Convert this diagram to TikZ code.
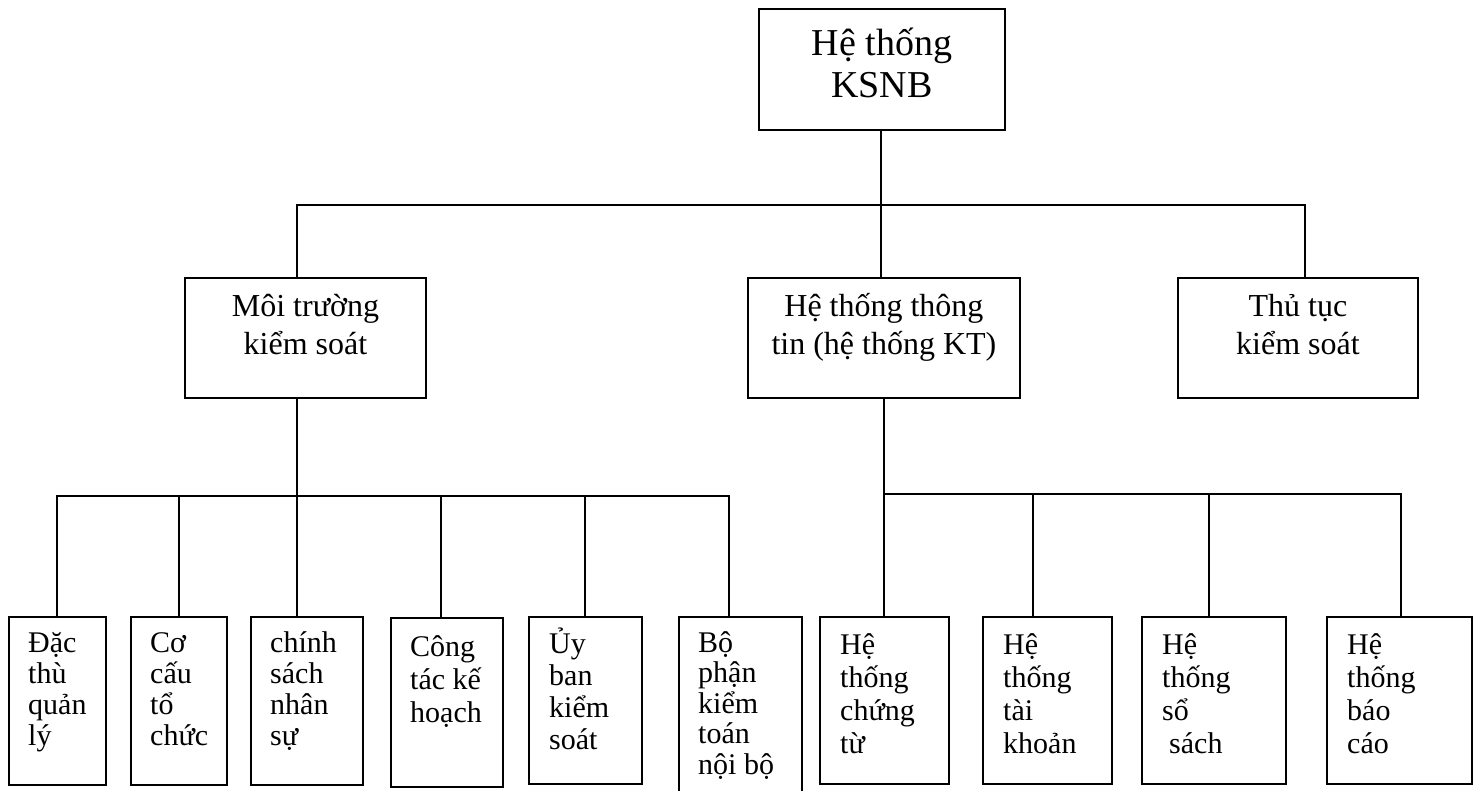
\documentclass[tikz,border=0pt]{standalone}
\usepackage{fontspec}
\setmainfont{Liberation Serif}

% text blocks whose anchor "base" sits on the first line's baseline
\newcommand\topstack[1]{\parbox[t]{240pt}{\centering\fontsize{38}{42}\selectfont #1}}
\newcommand\midstack[1]{\parbox[t]{270pt}{\centering\fontsize{32}{38}\selectfont #1}}
% optional argument: line spacing of the leaf texts
\newcommand\leafstack[2][31]{\parbox[t]{130pt}{\raggedright\fontsize{30}{#1}\selectfont #2}}

\begin{document}
\begin{tikzpicture}[x=1pt,y=-1pt,
  box/.style={draw=black,line width=1.9pt,rectangle,inner sep=0pt,anchor=north west},
  wire/.style={draw=black,line width=1.9pt},
  label/.style={inner sep=0pt,anchor=base},
  leaflabel/.style={inner sep=0pt,anchor=base west}]

\useasboundingbox (0,0) rectangle (1480,791);
\fill[white] (0,0) rectangle (1480,791);

% ---------- boxes ----------
\node[box,minimum width=246pt,minimum height=121pt] (top)  at (758,8)   {};
\node[box,minimum width=241pt,minimum height=120pt] (env)  at (184,277) {};
\node[box,minimum width=272pt,minimum height=120pt] (info) at (747,277) {};
\node[box,minimum width=240pt,minimum height=120pt] (proc) at (1177,277) {};

\node[box,minimum width=97pt, minimum height=168pt] (c1)  at (8,616)    {};
\node[box,minimum width=96pt, minimum height=168pt] (c2)  at (130,616)  {};
\node[box,minimum width=112pt,minimum height=168pt] (c3)  at (250,616)  {};
\node[box,minimum width=112pt,minimum height=169pt] (c4)  at (390,617)  {};
\node[box,minimum width=113pt,minimum height=167pt] (c5)  at (528,616)  {};
\node[box,minimum width=123pt,minimum height=200pt] (c6)  at (678,616)  {};
\node[box,minimum width=129pt,minimum height=167pt] (c7)  at (819,616)  {};
\node[box,minimum width=129pt,minimum height=167pt] (c8)  at (982,616)  {};
\node[box,minimum width=144pt,minimum height=167pt] (c9)  at (1141,616) {};
\node[box,minimum width=145pt,minimum height=167pt] (c10) at (1326,616) {};

% ---------- texts ----------
\node[label] (ttop)  at ([yshift=-48pt]top.north)  {\topstack{Hệ thống\\KSNB}};
\node[label] (tenv)  at ([yshift=-40pt]env.north)  {\midstack{Môi trường\\kiểm soát}};
\node[label] (tinfo) at ([yshift=-40pt]info.north) {\midstack{Hệ thống thông\\tin (hệ thống KT)}};
\node[label] (tproc) at ([yshift=-40pt]proc.north) {\midstack{Thủ tục\\kiểm soát}};

\node[leaflabel] (tc1)  at ([xshift=20pt,yshift=-36pt]c1.north west)  {\leafstack{Đặc\\thù\\quản\\lý}};
\node[leaflabel] (tc2)  at ([xshift=20pt,yshift=-36pt]c2.north west)  {\leafstack{Cơ\\cấu\\tổ\\chức}};
\node[leaflabel] (tc3)  at ([xshift=20pt,yshift=-36pt]c3.north west)  {\leafstack{chính\\sách\\nhân\\sự}};
\node[leaflabel] (tc4)  at ([xshift=20pt,yshift=-39pt]c4.north west)  {\leafstack[33]{Công\\tác kế\\hoạch}};
\node[leaflabel] (tc5)  at ([xshift=21pt,yshift=-37pt]c5.north west)  {\leafstack[32]{Ủy\\ban\\kiểm\\soát}};
\node[leaflabel] (tc6)  at ([xshift=20pt,yshift=-36pt]c6.north west)  {\leafstack[30.5]{Bộ\\phận\\kiểm\\toán\\nội bộ}};
\node[leaflabel] (tc7)  at ([xshift=21pt,yshift=-38pt]c7.north west)  {\leafstack[33]{Hệ\\thống\\chứng\\từ}};
\node[leaflabel] (tc8)  at ([xshift=21pt,yshift=-38pt]c8.north west)  {\leafstack[33]{Hệ\\thống\\tài\\khoản}};
\node[leaflabel] (tc9)  at ([xshift=21pt,yshift=-38pt]c9.north west)  {\leafstack[33]{Hệ\\thống\\sổ\\\hspace*{7pt}sách}};
\node[leaflabel] (tc10) at ([xshift=21pt,yshift=-38pt]c10.north west) {\leafstack[33]{Hệ\\thống\\báo\\cáo}};

% ---------- connectors ----------
% first level
\coordinate (busL) at (297,205);
\coordinate (busR) at (1305,205);
\draw[wire] (top.south -| 881,0) -- (info.north -| 881,0);
\draw[wire] (busL |- env.north) -- (busL) -- (busR) -- (busR |- proc.north);

% control environment branch
\coordinate (s1) at (57,496);
\coordinate (s2) at (179,496);
\coordinate (s3) at (297,496);
\coordinate (s4) at (441,496);
\coordinate (s5) at (585,496);
\coordinate (s6) at (729,496);
\draw[wire] (s3 |- env.south) -- (s3 |- c3.north);
\draw[wire] (s1 |- c1.north) -- (s1) -- (s6) -- (s6 |- c6.north);
\draw[wire] (s2) -- (s2 |- c2.north);
\draw[wire] (s4) -- (s4 |- c4.north);
\draw[wire] (s5) -- (s5 |- c5.north);

% information system branch
\coordinate (r0) at (884,494);
\coordinate (r1) at (1033,494);
\coordinate (r2) at (1209,494);
\coordinate (r3) at (1401,494);
\draw[wire] (r0 |- info.south) -- (r0 |- c7.north);
\draw[wire] (r0) -- (r3) -- (r3 |- c10.north);
\draw[wire] (r1) -- (r1 |- c8.north);
\draw[wire] (r2) -- (r2 |- c9.north);
\end{tikzpicture}
\end{document}
